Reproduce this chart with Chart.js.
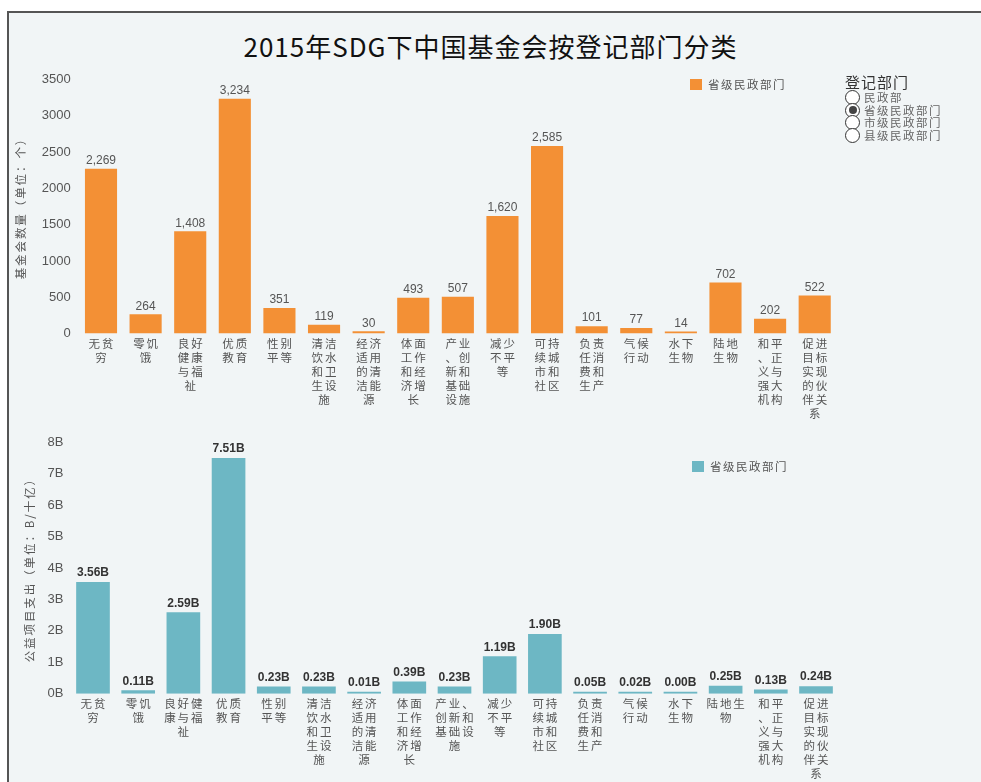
<!DOCTYPE html>
<html>
<head>
<meta charset="utf-8">
<script src="https://cdn.jsdelivr.net/npm/chart.js@4/dist/chart.umd.min.js"></script>
<style>
  html, body { margin: 0; padding: 0; background: #fff; width: 981px; height: 782px; overflow: hidden; }
  #panel { position: absolute; left: 7px; top: 11px; width: 990px; height: 790px;
    background: #f1f5f6; border-top: 2px solid #555; border-left: 2px solid #555; }
  #title { position: absolute; left: 0; top: 27px; width: 981px; text-align: center;
    font: 26px "Noto Sans CJK SC", sans-serif; color: #111; letter-spacing: 1px; }
  .chartbox { position: absolute; }
  .leg { position: absolute; font: 11.5px "Noto Sans CJK SC", sans-serif; color: #555; letter-spacing: 1.5px; }
  .leg i { display: inline-block; width: 12px; height: 11px; vertical-align: -1px; margin-right: 6px; }
  #filter { position: absolute; left: 845px; top: 71px; font: 11.5px "Noto Sans CJK SC", sans-serif; color: #666; }
  #filter .t { font-size: 15px; color: #333; letter-spacing: 1px; margin-bottom: -2px; }
  #filter .r { height: 12.7px; line-height: 12px; white-space: nowrap; letter-spacing: 1.5px; }
  #filter .r span { display: inline-block; width: 13px; height: 13px; border: 1px solid #333; border-radius: 50%;
    vertical-align: -3px; margin-right: 4px; position: relative; box-sizing: content-box; background: #fff; }
  #filter .r span.on::after { content: ''; position: absolute; left: 2.5px; top: 2.5px; width: 8px; height: 8px;
    border-radius: 50%; background: #444; }
</style>
</head>
<body>
<div id="panel"></div>
<div id="title">2015年SDG下中国基金会按登记部门分类</div>
<div class="chartbox" style="left:10px;top:60px;width:840px;height:370px"><canvas id="top"></canvas></div>
<div class="chartbox" style="left:10px;top:425px;width:840px;height:357px"><canvas id="bottom"></canvas></div>
<div class="leg" style="left:690px;top:76px"><i style="background:#f39035"></i>省级民政部门</div>
<div class="leg" style="left:692px;top:458px"><i style="background:#6db7c4"></i>省级民政部门</div>
<div id="filter">
  <div class="t">登记部门</div>
  <div class="r"><span></span>民政部</div>
  <div class="r"><span class="on"></span>省级民政部门</div>
  <div class="r"><span></span>市级民政部门</div>
  <div class="r"><span></span>县级民政部门</div>
</div>
<script>
// 17 个可持续发展目标
const categories = ['无贫穷', '零饥饿', '良好健康与福祉', '优质教育', '性别平等', '清洁饮水和卫生设施',
  '经济适用的清洁能源', '体面工作和经济增长', '产业、创新和基础设施', '减少不平等', '可持续城市和社区',
  '负责任消费和生产', '气候行动', '水下生物', '陆地生物', '和平、正义与强大机构', '促进目标实现的伙伴关系']

// 基金会数量（个）
const foundationCounts = [2269, 264, 1408, 3234, 351, 119, 30, 493, 507, 1620, 2585, 101, 77, 14, 702, 202, 522]
// 公益项目支出（十亿）
const spending = [3.56, 0.11, 2.59, 7.51, 0.23, 0.23, 0.01, 0.39, 0.23, 1.19, 1.90, 0.05, 0.02, 0.00, 0.25, 0.13, 0.24]

const countTicks = [0, 500, 1000, 1500, 2000, 2500, 3000, 3500]
const spendTicks = [0, 1, 2, 3, 4, 5, 6, 7, 8]

// 换行后的轴标签
const topLabels = [
  ['无贫', '穷'], ['零饥', '饿'], ['良好', '健康', '与福', '祉'], ['优质', '教育'], ['性别', '平等'],
  ['清洁', '饮水', '和卫', '生设', '施'], ['经济', '适用', '的清', '洁能', '源'], ['体面', '工作', '和经', '济增', '长'],
  ['产业', '、创', '新和', '基础', '设施'], ['减少', '不平', '等'], ['可持', '续城', '市和', '社区'],
  ['负责', '任消', '费和', '生产'], ['气候', '行动'], ['水下', '生物'], ['陆地', '生物'],
  ['和平', '、正', '义与', '强大', '机构'], ['促进', '目标', '实现', '的伙', '伴关', '系']
]
const bottomLabels = [
  ['无贫', '穷'], ['零饥', '饿'], ['良好健', '康与福', '祉'], ['优质', '教育'], ['性别', '平等'],
  ['清洁', '饮水', '和卫', '生设', '施'], ['经济', '适用', '的清', '洁能', '源'], ['体面', '工作', '和经', '济增', '长'],
  ['产业、', '创新和', '基础设', '施'], ['减少', '不平', '等'], ['可持', '续城', '市和', '社区'],
  ['负责', '任消', '费和', '生产'], ['气候', '行动'], ['水下', '生物'], ['陆地生', '物'],
  ['和平', '、正', '义与', '强大', '机构'], ['促进', '目标', '实现', '的伙', '伴关', '系']
]

const cjk = '"Noto Sans CJK SC", sans-serif'
const num = '"Liberation Sans", Arial, sans-serif'

// 中文字之间加一点空隙
const spread = s => s.split('').join('\u2006')

// 在柱子上方写数值
const valueLabels = {
  id: 'valueLabels',
  afterDatasetsDraw(chart, args, opts) {
    const ctx = chart.ctx
    const meta = chart.getDatasetMeta(0)
    ctx.save()
    ctx.font = opts.font
    ctx.fillStyle = opts.color
    ctx.textAlign = 'center'
    ctx.textBaseline = 'bottom'
    meta.data.forEach((bar, i) => {
      const v = chart.data.datasets[0].data[i]
      ctx.fillText(opts.format(v), bar.x, bar.y - opts.gap)
    })
    ctx.restore()
  }
}

function makeChart(id, cfg) {
  return new Chart(document.getElementById(id), {
    type: 'bar',
    data: {
      labels: cfg.labels,
      datasets: [{
        data: cfg.data,
        backgroundColor: cfg.color,
        categoryPercentage: 1,
        barPercentage: cfg.barPct,
        minBarLength: 2
      }]
    },
    plugins: [valueLabels],
    options: {
      responsive: false,
      animation: false,
      maintainAspectRatio: false,
      layout: { padding: { top: cfg.padTop, right: cfg.padRight, left: 0, bottom: 0 } },
      plugins: {
        legend: { display: false },
        tooltip: { enabled: false },
        valueLabels: { font: cfg.labelFont, color: cfg.labelColor, gap: cfg.gap, format: cfg.format }
      },
      scales: {
        x: {
          grid: { display: false, drawTicks: false },
          border: { display: false },
          ticks: {
            autoSkip: false, maxRotation: 0, padding: 3,
            color: '#555', font: { family: cjk, size: 11.5, lineHeight: 1.22 },
            callback: (v, i) => cfg.labels[i].map(spread)
          },
          afterFit: s => { s.height = cfg.xHeight }
        },
        y: {
          min: 0, max: cfg.max,
          grid: { display: false, drawTicks: false },
          border: { display: false },
          afterBuildTicks: s => { s.ticks = cfg.ticks.map(v => ({ value: v })) },
          ticks: {
            padding: cfg.tickPad, color: '#555',
            font: { family: num, size: 13 },
            callback: cfg.tickFmt
          },
          title: {
            display: true, text: spread(cfg.title), color: '#555',
            font: { family: cjk, size: 11.5 }, padding: { top: cfg.titlePad, bottom: 0 }
          },
          afterFit: s => { s.width = cfg.yWidth }
        }
      }
    }
  })
}

document.getElementById('top').width = 840
document.getElementById('top').height = 370
document.getElementById('bottom').width = 840
document.getElementById('bottom').height = 357

makeChart('top', {
  labels: topLabels, data: foundationCounts, color: '#f39035', barPct: 0.72,
  max: 3500, ticks: countTicks, tickFmt: v => String(v),
  title: '基金会数量（单位：个）', titlePad: 4,
  padTop: 19.5, padRight: 13, yWidth: 68.7, xHeight: 96.5, tickPad: 8,
  labelFont: '12px ' + num, labelColor: '#555', gap: 2,
  format: v => v.toLocaleString('en-US')
})

makeChart('bottom', {
  labels: bottomLabels, data: spending, color: '#6db7c4', barPct: 0.745,
  max: 8, ticks: spendTicks, tickFmt: v => v + 'B',
  title: '公益项目支出（单位：B/十亿）', titlePad: 13,
  padTop: 17.5, padRight: 11.4, yWidth: 60.4, xHeight: 88.3, tickPad: 7,
  labelFont: 'bold 12px ' + num, labelColor: '#333', gap: 3,
  format: v => v.toFixed(2) + 'B'
})
</script>
</body>
</html>
